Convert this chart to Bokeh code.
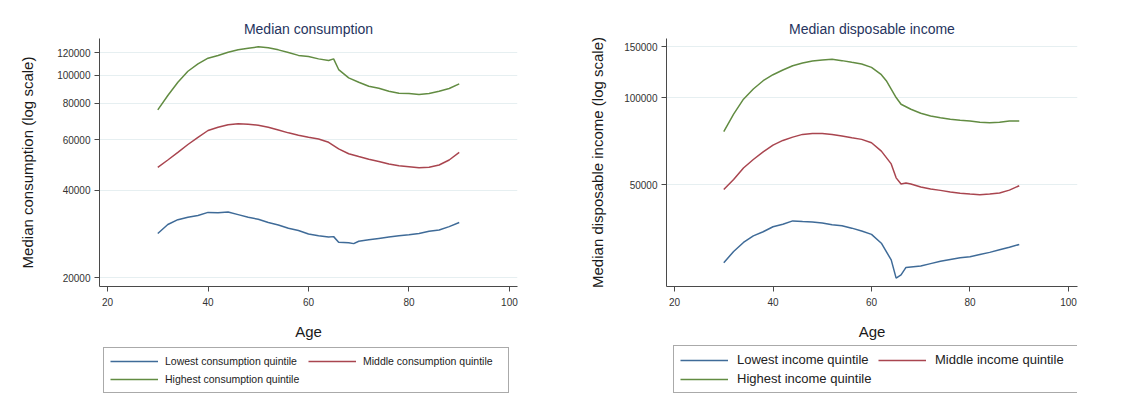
from bokeh.plotting import figure
from bokeh.layouts import row, column
from bokeh.models import (Range1d, FixedTicker, NumeralTickFormatter, Legend, LegendItem)
from bokeh.embed import file_html
from bokeh.resources import INLINE

# ---------------- data ----------------
# Median consumption (left panel)
age_c_low = [30, 32, 34, 36, 38, 40, 42, 44, 46, 48, 50, 52, 54, 56, 58, 60, 62, 64, 65, 66, 68, 69,
             70, 72, 74, 76, 78, 80, 82, 84, 86, 88, 90]
cons_low = [28400, 30500, 31700, 32300, 32800, 33600, 33500, 33700, 33000, 32300, 31800, 31000, 30400,
            29600, 29100, 28300, 27900, 27600, 27700, 26500, 26400, 26200, 26700, 27000, 27300, 27600,
            27900, 28100, 28400, 28900, 29200, 30000, 31000]
age_c_mid = [30, 32, 34, 36, 38, 40, 42, 44, 46, 48, 50, 52, 54, 56, 58, 60, 62, 64, 66, 68,
             70, 72, 74, 76, 78, 80, 82, 84, 86, 88, 90]
cons_mid = [48100, 51000, 54200, 57700, 61100, 64500, 66200, 67500, 68000, 67800, 67300, 66200, 64800,
            63300, 62100, 61100, 60300, 58700, 55700, 53600, 52400, 51300, 50400, 49400, 48700, 48300,
            47900, 48100, 49000, 51000, 54200]
age_c_high = [30, 32, 34, 36, 38, 40, 42, 44, 46, 48, 50, 52, 54, 56, 58, 60, 62, 64, 65, 66, 68,
              70, 72, 74, 76, 78, 80, 82, 84, 86, 88, 90]
cons_high = [76000, 85200, 94700, 103400, 109600, 114700, 117200, 120300, 122600, 124200, 125600,
             124600, 122600, 120000, 117300, 116300, 114100, 112600, 114100, 104800, 98100, 94700,
             91800, 90300, 88200, 86800, 86600, 85900, 86600, 88200, 90100, 93500]

# Median disposable income (right panel)
age_i_low = [30, 32, 34, 36, 38, 40, 42, 44, 46, 48, 50, 52, 54, 56, 58, 60, 62, 64, 65, 66, 67, 68,
             70, 72, 74, 76, 78, 80, 82, 84, 86, 88, 90]
inc_low = [26900, 29400, 31600, 33300, 34400, 35800, 36500, 37500, 37300, 37200, 36900, 36400, 36100,
           35400, 34600, 33700, 31400, 27500, 23800, 24400, 25900, 26000, 26200, 26700, 27200, 27600,
           28000, 28200, 28700, 29200, 29800, 30400, 31100]
age_i_mid = [30, 32, 34, 36, 38, 40, 42, 44, 46, 48, 50, 52, 54, 56, 58, 60, 62, 64, 65, 66, 67, 68,
             70, 72, 74, 76, 78, 80, 82, 84, 86, 88, 90]
inc_mid = [48100, 52100, 57100, 61100, 64900, 68500, 71100, 73000, 74600, 75200, 75200, 74600, 73600,
           72600, 71700, 69800, 65300, 59000, 52800, 50300, 50700, 50300, 49100, 48300, 47800, 47200,
           46700, 46400, 46200, 46400, 46800, 47900, 49600]
age_i_high = [30, 32, 34, 36, 38, 40, 42, 44, 46, 48, 50, 52, 54, 56, 58, 60, 62, 63, 64, 65, 66, 68,
              70, 72, 74, 76, 78, 80, 82, 84, 86, 88, 90]
inc_high = [76200, 87600, 98700, 107000, 114300, 119900, 124500, 128800, 131600, 133800, 134800,
            135500, 134100, 132300, 130600, 127100, 119900, 114300, 107000, 100000, 94800, 91100,
            88300, 86400, 85200, 84100, 83500, 83000, 82100, 81900, 82100, 83000, 83000]

x_ticks = [20, 40, 60, 80, 100]
cons_ticks = [20000, 40000, 60000, 80000, 100000, 120000]
inc_ticks = [50000, 100000, 150000]

cons_labels = ["Lowest consumption quintile", "Middle consumption quintile", "Highest consumption quintile"]
inc_labels = ["Lowest income quintile", "Middle income quintile", "Highest income quintile"]

# ---------------- styles ----------------
FONT = "Liberation Sans"
COLORS = ["#3f6b98", "#a9454f", "#628c42"]
AXIS_C = "#4a4a4a"
GRID_C = "#e6eff1"
MAIN_H = 342
LEG_H = 394 - MAIN_H


def make_panel(title, ylabel, width, left_border, right_border, xr, yr, yticks, series, ylab_standoff):
    p = figure(width=width, height=MAIN_H, output_backend="svg", toolbar_location=None,
               y_axis_type="log", x_range=Range1d(*xr), y_range=Range1d(*yr),
               min_border_left=left_border, min_border_right=right_border,
               min_border_top=38, min_border_bottom=MAIN_H - 286)
    p.outline_line_color = None
    p.background_fill_color = "white"
    p.border_fill_color = "white"

    p.title.text = title
    p.title.align = "center"
    p.title.text_font = FONT
    p.title.text_font_size = "14px"
    p.title.text_font_style = "normal"
    p.title.text_color = "#26345e"
    p.title.standoff = 4

    p.xgrid.visible = False
    p.ygrid.grid_line_color = GRID_C
    p.ygrid.grid_line_width = 1

    p.xaxis.ticker = FixedTicker(ticks=x_ticks)
    p.yaxis.ticker = FixedTicker(ticks=yticks)
    p.yaxis.formatter = NumeralTickFormatter(format="0")
    p.yaxis.minor_tick_line_color = None
    p.xaxis.minor_tick_line_color = None
    for ax in (p.xaxis, p.yaxis):
        ax.axis_line_color = AXIS_C
        ax.major_tick_line_color = AXIS_C
        ax.major_tick_in = 0
        ax.major_tick_out = 5
        ax.major_label_text_font = FONT
        ax.major_label_text_font_size = "10px"
        ax.major_label_text_color = "#333333"
        ax.axis_label_text_font = FONT
        ax.axis_label_text_font_size = "15px"
        ax.axis_label_text_font_style = "normal"
        ax.axis_label_text_color = "#1a1a1a"
    p.xaxis.axis_label = "Age"
    p.xaxis.major_label_standoff = 6
    p.xaxis.axis_label_standoff = 14
    p.yaxis.axis_label = ylabel
    p.yaxis.major_label_standoff = 4
    p.yaxis.axis_label_standoff = ylab_standoff

    for (xs, ys), col in zip(series, COLORS):
        p.line(xs, ys, line_color=col, line_width=1.5)
    return p


def make_legend(width, left_border, right_border, series, labels, font_size, label_width, standoff, x_off):
    # the legend strip sits under its panel; its frame is aligned with the panel's frame
    q = figure(width=width, height=LEG_H, output_backend="svg", toolbar_location=None,
               x_axis_location=None, y_axis_location=None,
               min_border_left=left_border, min_border_right=right_border,
               min_border_top=0, min_border_bottom=0,
               x_range=Range1d(0, 1), y_range=Range1d(0, 1))
    q.outline_line_color = None
    q.grid.visible = False
    # same series, drawn outside this strip's visible range: only their legend glyphs show
    rs = [q.line(xs, ys, line_color=col, line_width=1.5) for (xs, ys), col in zip(series, COLORS)]
    leg = Legend(items=[LegendItem(label=lab, renderers=[r]) for lab, r in zip(labels, rs)],
                 orientation="horizontal", ncols=2, location=(x_off, 1),
                 border_line_color="#555555", border_line_width=1,
                 background_fill_color="white", background_fill_alpha=1.0,
                 padding=6, spacing=4, margin=0,
                 glyph_width=48, glyph_height=14, label_height=14,
                 label_width=label_width, label_standoff=standoff,
                 label_text_font=FONT, label_text_font_size=font_size,
                 label_text_color="#222222")
    q.add_layout(leg, "center")
    return q


cons_series = [(age_c_low, cons_low), (age_c_mid, cons_mid), (age_c_high, cons_high)]
inc_series = [(age_i_low, inc_low), (age_i_mid, inc_mid), (age_i_high, inc_high)]

left = make_panel("Median consumption", "Median consumption (log scale)", 560, 99, 43,
                  (18.4, 101.6), (18620, 134200), cons_ticks, cons_series, 18)
right = make_panel("Median disposable income", "Median disposable income (log scale)", 572, 106, 55,
                   (18.37, 101.83), (22260, 159900), inc_ticks, inc_series, 15)
left_leg = make_legend(560, 99, 43, cons_series, cons_labels, "10.5px", 139, 7, 4)
right_leg = make_legend(572, 106, 55, inc_series, inc_labels, "13px", 137, 9, 7)

layout = row(column(left, left_leg), column(right, right_leg))
open("out.html", "w").write(file_html(layout, INLINE))
